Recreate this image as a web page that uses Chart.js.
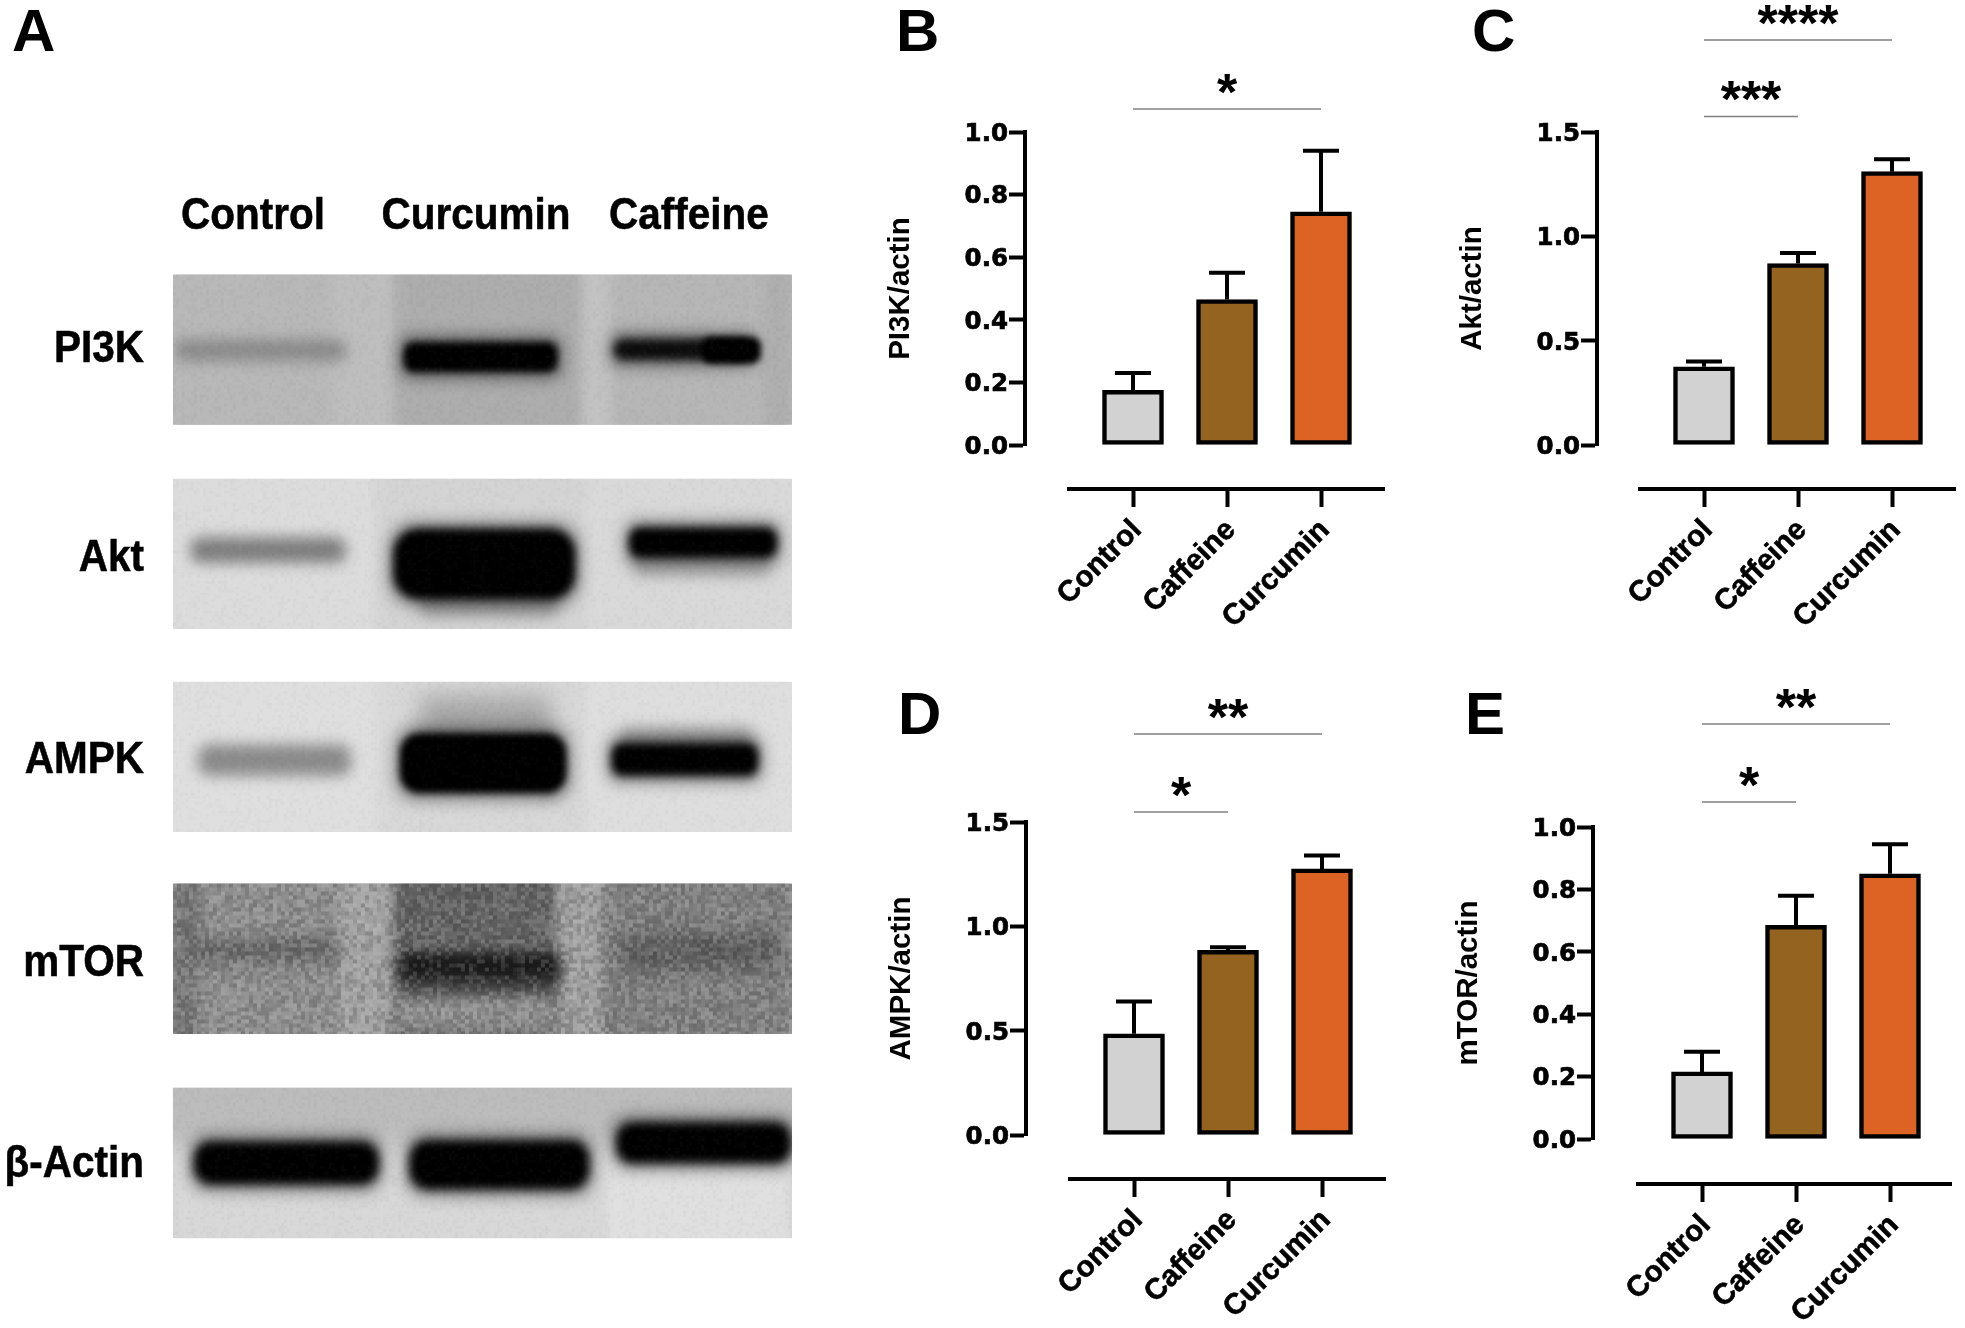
<!DOCTYPE html>
<html>
<head>
<meta charset="utf-8">
<style>
    html, body { margin: 0; padding: 0; background: #fff; }
    #page { position: relative; width: 1965px; height: 1328px; overflow: hidden; }
    canvas { position: absolute; }
    .txt { position: absolute; font-family: "Liberation Sans", Arial, sans-serif; font-weight: bold; color: #000; line-height: 1; white-space: nowrap; }
    .thick { -webkit-text-stroke: 0.5px #000; }
</style>
</head>
<body>
<div id="page">
    <canvas id="Blots" width="1965" height="1328" style="left:0;top:0"></canvas>
</div>
<script src="https://cdn.jsdelivr.net/npm/chart.js@4/dist/chart.umd.min.js"></script>
<script>
//categories and values
var categories = ["Control", "Caffeine", "Curcumin"];

var pi3kValues = [0.175, 0.465, 0.745];
var pi3kErrTop = [0.23, 0.55, 0.94];
var aktValues = [0.375, 0.87, 1.31];
var aktErrTop = [0.40, 0.92, 1.37];
var ampkValues = [0.485, 0.885, 1.275];
var ampkErrTop = [0.64, 0.90, 1.34];
var mtorValues = [0.215, 0.685, 0.85];
var mtorErrTop = [0.28, 0.78, 0.945];

var barColors = ["#d2d2d2", "#93631f", "#dc6323"];

//labels of the blot panel
var laneLabels = ["Control", "Curcumin", "Caffeine"];
var rowLabels = ["PI3K", "Akt", "AMPK", "mTOR", "β-Actin"];

//page layout, real pixels
var PAGE = document.getElementById("page");
var BLACK = "#000";

//one chart per panel
makePanel = function( cfg ){
    var gutter = 150,
        canvasLeft = cfg.yAxisX - gutter,
        canvasRight = cfg.right + 6,
        step = cfg.ticksX[1] - cfg.ticksX[0];

    var canvas = document.createElement("CANVAS");
    canvas.width = canvasRight - canvasLeft;
    canvas.height = cfg.canvasBottom - cfg.canvasTop;
    canvas.style.left = canvasLeft + "px";
    canvas.style.top = cfg.canvasTop + "px";
    PAGE.appendChild( canvas );

    //value on the y scale where the detached x axis sits
    var yPerPx = cfg.yMax / ( cfg.bottom - cfg.top );
    var xAxisValue = -( cfg.xAxisY - cfg.bottom ) * yPerPx;

    return new Chart( canvas.getContext("2d"), {
        type: "bar",
        data: {
            datasets: [{
                data: cfg.values.map( function(v, i){ return { x: i, y: v }; } ),
                backgroundColor: barColors,
                borderColor: BLACK,
                borderWidth: 4.5,
                borderSkipped: false,
                barThickness: 61,
                clip: false
            }]
        },
        options: {
            responsive: false,
            animation: false,
            devicePixelRatio: 1,
            layout: {
                padding: {
                    left: 0,
                    top: cfg.top - cfg.canvasTop,
                    right: canvasRight - cfg.right,
                    bottom: cfg.canvasBottom - cfg.bottom
                }
            },
            plugins: {
                legend: { display: false },
                tooltip: { enabled: false },
                title: { display: false },
                panelMarks: { errTop: cfg.errTop, sig: cfg.sig, canvasTop: cfg.canvasTop, axisStart: cfg.left - canvasLeft }
            },
            scales: {
                x: {
                    type: "linear",
                    position: { y: xAxisValue },
                    bounds: "data",
                    offset: false,
                    min: ( cfg.yAxisX - cfg.ticksX[0] ) / step,
                    max: ( cfg.right - cfg.ticksX[0] ) / step,
                    afterBuildTicks: function( scale ){
                        scale.ticks = categories.map( function(c, i){ return { value: i }; } );
                    },
                    border: { color: BLACK, width: 4 },
                    grid: { offset: false, drawOnChartArea: false, tickLength: 16, tickColor: BLACK, tickWidth: 4 },
                    ticks: {
                        autoSkip: false,
                        minRotation: 45,
                        maxRotation: 45,
                        padding: 8,
                        labelOffset: 4,
                        color: BLACK,
                        textStrokeColor: BLACK,
                        textStrokeWidth: 0.6,
                        font: { family: "Liberation Sans", weight: "bold", size: 29.5 },
                        callback: function(value, index){ return categories[index]; }
                    }
                },
                y: {
                    position: "left",
                    min: 0,
                    max: cfg.yMax,
                    afterFit: function( scale ){ scale.width = gutter; },
                    border: { color: BLACK, width: 4 },
                    grid: { drawOnChartArea: false, tickLength: 16, tickColor: BLACK, tickWidth: 4 },
                    title: {
                        display: true,
                        text: cfg.title,
                        color: BLACK,
                        font: { family: "Liberation Sans", weight: "bold", size: 29.5 },
                        padding: { top: 8, bottom: 0 }
                    },
                    ticks: {
                        stepSize: cfg.yStep,
                        padding: 1,
                        labelOffset: 2.5,
                        color: BLACK,
                        textStrokeColor: BLACK,
                        textStrokeWidth: 0.7,
                        font: { family: "DejaVu Sans", weight: "bold", size: 24.5 },
                        callback: function(value){ return value.toFixed(1); }
                    }
                }
            }
        }
    });
}

//error bars and significance lines, placed through the scales
var panelMarks = {
    id: "panelMarks",
    //the x axis line starts right of the y axis, pixel mapping is already done here
    beforeDraw: function( chart, args, opts ){
        chart.scales.x.left = opts.axisStart;
    },
    afterDatasetsDraw: function( chart, args, opts ){
        var ctx = chart.ctx, x = chart.scales.x, y = chart.scales.y;

        ctx.save();
        ctx.strokeStyle = BLACK;
        ctx.lineWidth = 4;
        for( var i = 0; i < opts.errTop.length; i++ ){
            var px = x.getPixelForValue( i ),
                top = y.getPixelForValue( opts.errTop[i] ),
                base = y.getPixelForValue( chart.data.datasets[0].data[i].y );
            ctx.beginPath();
            ctx.moveTo( px, base );
            ctx.lineTo( px, top );
            ctx.moveTo( px - 18, top );
            ctx.lineTo( px + 18, top );
            ctx.stroke();
        }

        for( var j = 0; j < opts.sig.length; j++ ){
            var s = opts.sig[j],
                x1 = x.getPixelForValue( s.from ),
                x2 = x.getPixelForValue( s.to ),
                ly = s.y - opts.canvasTop;
            ctx.strokeStyle = "#808080";
            ctx.lineWidth = 1.6;
            ctx.beginPath();
            ctx.moveTo( x1, ly );
            ctx.lineTo( x2, ly );
            ctx.stroke();

            ctx.fillStyle = BLACK;
            ctx.font = "bold 52px 'Liberation Sans'";
            ctx.textAlign = "center";
            ctx.textBaseline = "alphabetic";
            ctx.fillText( s.stars, ( x1 + x2 ) / 2, ly - 28.5 + 29 );
        }
        ctx.restore();
    }
};
Chart.register( panelMarks );

makePanel({
    title: "PI3K/actin", values: pi3kValues, errTop: pi3kErrTop, yMax: 1.0, yStep: 0.2,
    yAxisX: 1025, left: 1069, right: 1384, top: 132, bottom: 445, xAxisY: 489,
    ticksX: [1133, 1227, 1321], canvasTop: 0, canvasBottom: 660,
    sig: [{ from: 0, to: 2, y: 109, stars: "*" }]
});
makePanel({
    title: "Akt/actin", values: aktValues, errTop: aktErrTop, yMax: 1.5, yStep: 0.5,
    yAxisX: 1597, left: 1640, right: 1955, top: 132, bottom: 445, xAxisY: 489,
    ticksX: [1704, 1798, 1892], canvasTop: 0, canvasBottom: 660,
    sig: [{ from: 0, to: 2, y: 40, stars: "****" }, { from: 0, to: 1, y: 116.5, stars: "***" }]
});
makePanel({
    title: "AMPK/actin", values: ampkValues, errTop: ampkErrTop, yMax: 1.5, yStep: 0.5,
    yAxisX: 1026, left: 1070, right: 1385, top: 822, bottom: 1135, xAxisY: 1179,
    ticksX: [1134, 1228, 1322], canvasTop: 670, canvasBottom: 1328,
    sig: [{ from: 0, to: 2, y: 734, stars: "**" }, { from: 0, to: 1, y: 812, stars: "*" }]
});
makePanel({
    title: "mTOR/actin", values: mtorValues, errTop: mtorErrTop, yMax: 1.0, yStep: 0.2,
    yAxisX: 1593, left: 1638, right: 1951, top: 827, bottom: 1139, xAxisY: 1184,
    ticksX: [1702, 1796, 1890], canvasTop: 670, canvasBottom: 1328,
    sig: [{ from: 0, to: 2, y: 724, stars: "**" }, { from: 0, to: 1, y: 802, stars: "*" }]
});

//plain text labels
addText = function( text, x, y, size, anchor, stretch ){
    var el = document.createElement("DIV");
    el.className = "txt" + ( stretch > 1 ? " thick" : "" );
    el.textContent = text;
    el.style.fontSize = size + "px";
    el.style.top = y + "px";
    var shift = "0";
    if( anchor == "center" ) shift = "-50%";
    if( anchor == "right" ) shift = "-100%";
    el.style.left = x + "px";
    el.style.transform = "translate(" + shift + ",-50%) scaleY(" + stretch + ")";
    PAGE.appendChild( el );
}

addText( "A", 12, 31, 60, "left", 1 );
addText( "B", 896, 31, 60, "left", 1 );
addText( "C", 1472, 31, 60, "left", 1 );
addText( "D", 898, 714, 60, "left", 1 );
addText( "E", 1465, 714, 60, "left", 1 );

var laneCenters = [253, 476, 689];
for( var i = 0; i < laneLabels.length; i++ )
    addText( laneLabels[i], laneCenters[i], 214, 40.5, "center", 1.08 );

var rowCenters = [347, 556, 758, 961, 1162];
for( var r = 0; r < rowLabels.length; r++ )
    addText( rowLabels[r], 144, rowCenters[r], 40.5, "right", 1.08 );

//blot strips, a picture and not data: drawn as blurred shapes on the plain canvas
var S = 1965 / 1568;
var blot = document.getElementById("Blots").getContext("2d");

//bands are [x0, x1, y, h, color, blur, radius, halo], smears come before the dark core
var strips = [
    { y: 219, bg: "#b8b8b8", noise: 7, cell: 3,
      lanes: [ [138, 265, "#b8b8b8"], [265, 315, "#bebebe"], [315, 465, "#adadad"], [465, 490, "#c2c2c2"], [490, 610, "#b6b6b6"], [610, 631, "#aeaeae"] ],
      bands: [ [140, 276, 271, 17, "#8a8a8a", 7, 6, 0], [322, 445, 273, 24, "#000", 3.5, 8, 1], [490, 600, 271, 16, "#0c0c0c", 4, 7, 1], [560, 607, 269, 21, "#000", 3, 7, 0] ] },
    { y: 382, bg: "#d9d9d9", noise: 6, cell: 3,
      lanes: [ [138, 300, "#dcdcdc"], [300, 470, "#d4d4d4"], [470, 631, "#d9d9d9"] ],
      bands: [ [152, 276, 429, 20, "#7d7d7d", 7, 8, 0], [335, 445, 470, 22, "#9a9a9a", 7, 6, 0], [314, 459, 422, 56, "#000", 4, 20, 1], [505, 615, 440, 20, "#a8a8a8", 7, 6, 0], [502, 620, 421, 24, "#000", 4, 9, 1] ] },
    { y: 544, bg: "#dedede", noise: 6, cell: 3,
      lanes: [ [138, 300, "#dfdfdf"], [300, 470, "#d8d8d8"], [470, 631, "#dedede"] ],
      bands: [ [335, 440, 555, 35, "#a8a8a8", 11, 6, 0], [158, 280, 594, 25, "#8b8b8b", 7, 9, 0], [319, 452, 585, 48, "#000", 3.5, 16, 1], [495, 600, 580, 18, "#a8a8a8", 7, 5, 0], [488, 605, 593, 26, "#000", 4, 9, 1] ] },
    { y: 705, bg: "#8f8f8f", noise: 42, cell: 4,
      lanes: [ [138, 160, "#787878"], [160, 270, "#8f8f8f"], [270, 315, "#a2a2a2"], [315, 445, "#636363"], [445, 482, "#a0a0a0"], [482, 631, "#828282"] ],
      bands: [ [150, 270, 748, 20, "#686868", 8, 7, 0], [315, 450, 790, 35, "#8f8f8f", 9, 2, 0], [322, 445, 775, 18, "#484848", 7, 5, 0], [318, 448, 760, 22, "#1c1c1c", 6, 7, 0], [495, 622, 744, 30, "#5e5e5e", 9, 8, 0] ] },
    { y: 868, bg: "#d0d0d0", noise: 7, cell: 3,
      lanes: [ [138, 482, "#d8d8d8"], [482, 631, "#e0e0e0"] ],
      topShade: "#bcbcbc",
      bands: [ [155, 302, 911, 34, "#000", 5, 14, 1], [327, 470, 910, 39, "#000", 5, 15, 1], [492, 631, 896, 32, "#000", 5, 13, 1] ] }
];

//fixed pseudo sequence for the grain of the film
var GRAIN = 12345;
grain = function(){
    GRAIN = ( GRAIN * 1103515245 + 12345 ) % 2147483648;
    return GRAIN / 2147483648;
}

strips.forEach( function( st ){
    var x0 = 138, x1 = 632, h = 120;

    blot.save();
    blot.scale( S, S );
    blot.beginPath();
    blot.rect( x0, st.y, x1 - x0, h );
    blot.clip();
    blot.fillStyle = st.bg;
    blot.fillRect( x0, st.y, x1 - x0, h );

    //lanes with soft edges
    blot.filter = "blur(6px)";
    st.lanes.forEach( function( l ){
        blot.fillStyle = l[2];
        blot.fillRect( l[0], st.y - 20, l[1] - l[0], h + 40 );
    });

    if( st.topShade ){
        blot.filter = "blur(10px)";
        blot.fillStyle = st.topShade;
        blot.fillRect( x0 - 20, st.y - 20, x1 - x0 + 40, 65 );
    }

    //bands, dark ones get a soft halo first
    st.bands.forEach( function( b ){
        if( b[7] ){
            blot.filter = "blur(8px)";
            blot.fillStyle = "rgba(0,0,0,0.45)";
            blot.beginPath();
            blot.roundRect( b[0] - 3, b[2] - 5, b[1] - b[0] + 6, b[3] + 10, b[6] );
            blot.fill();
        }
        blot.filter = "blur(" + b[5] + "px)";
        blot.fillStyle = b[4];
        blot.beginPath();
        blot.roundRect( b[0], b[2], b[1] - b[0], b[3], b[6] );
        blot.fill();
    });
    blot.filter = "none";

    //grain
    var cell = st.cell / S;
    for( var gy = st.y; gy < st.y + h; gy += cell ){
        for( var gx = x0; gx < x1; gx += cell ){
            var a = ( grain() - 0.5 ) * 2 * st.noise / 255;
            blot.fillStyle = a < 0 ? "rgba(0,0,0," + (-a) + ")" : "rgba(255,255,255," + a + ")";
            blot.fillRect( gx, gy, cell, cell );
        }
    }
    blot.restore();
});
</script>
</body>
</html>
